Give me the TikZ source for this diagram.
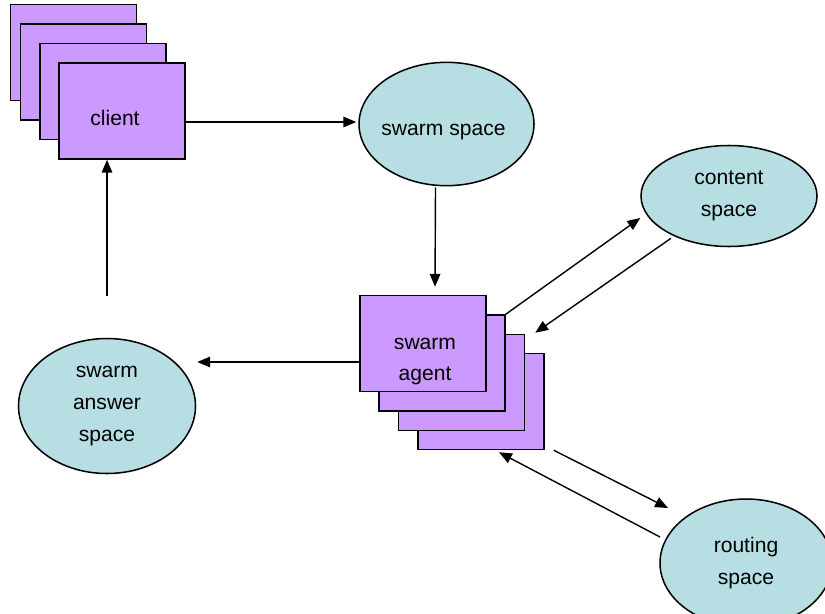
\documentclass[tikz,border=0pt]{standalone}
\usepackage{fontspec}
\setmainfont{Liberation Sans}
\usepackage{xcolor}
\definecolor{stackpurple}{HTML}{CC99FF}
\definecolor{spaceblue}{HTML}{B7DFE3}
\usepackage{tikz}
\usetikzlibrary{
  arrows.meta,
  positioning,
  shapes.geometric,
  calc,
}

\begin{document}
\begin{tikzpicture}[
  x=0.03cm, y=-0.03cm,
  stackbox/.style={
    draw=black, fill=stackpurple, line width=1.3pt,
    minimum width=3.78cm, minimum height=2.88cm, inner sep=0pt,
  },
  boxtext/.style={
    font=\fontsize{18}{27.2}\selectfont, align=center, inner sep=0pt,
  },
  space/.style={
    ellipse, draw=black, fill=spaceblue, line width=1.3pt, inner sep=0pt,
    font=\fontsize{18}{27.2}\selectfont, align=center,
  },
  flow/.style={
    draw=black, line width=1.2pt, -{Triangle[length=11pt,width=9pt]},
  },
]
  \useasboundingbox (0,0) rectangle (825,613);

  % Client stack
  \node[stackbox] (clientd) at (73.5,52.5) {};
  \node[stackbox] (clientc) at (83.5,72) {};
  \node[stackbox] (clientb) at (103,91.5) {};
  \node[stackbox, label={[boxtext, shift={(-7,7)}]center:client}] (client) at (122,111) {};

  % Swarm agent stack
  \node[stackbox] (agentd) at (481,401.5) {};
  \node[stackbox] (agentc) at (461.5,382.5) {};
  \node[stackbox] (agentb) at (442,363) {};
  \node[stackbox, label={[boxtext, shift={(2,18)}]center:swarm\\agent}] (agent) at (423,343.5) {};

  % Spaces
  \node[space, minimum width=5.25cm, minimum height=3.7cm,
        label={[boxtext, shift={(-3,8)}]center:swarm space}] (swarm) at (446.5,124) {};
  \node[space, minimum width=5.28cm, minimum height=3.03cm] (content) at (729,196) {content\\space};
  \node[space, minimum width=5.31cm, minimum height=4.05cm] (answer) at (107,406) {swarm\\answer\\space};
  \node[space, minimum width=5.16cm, minimum height=3.84cm] (routing) at (746,563) {routing\\space};

  % Connections
  \draw[flow] ($(client.east)+(0,11)$) -- ($(swarm.west)+(-2,-2)$);
  \draw[flow] ($(swarm.south)+(-11,1)$) -- ($(agent.north)+(12,-8)$);
  \draw[flow] ($(agent.west)+(0,18.5)$) -- ($(answer.east)+(1,-44)$);
  \draw[flow] ($(answer.north)+(0,-42)$) -- ($(client.south)+(-15,0)$);
  \draw[flow] (agentb.north east) -- ($(content.west)+(0,22)$);
  \draw[flow] ($(content.south)+(-58,-9)$) -- ($(agentc.north east)+(10,-1)$);
  \draw[flow] ($(agentd.south east)+(9,0)$) -- ($(routing.center)+(-78,-55)$);
  \draw[flow] ($(routing.center)+(-86,-26)$) -- ($(agentd.south)+(18,2)$);
\end{tikzpicture}
\end{document}
